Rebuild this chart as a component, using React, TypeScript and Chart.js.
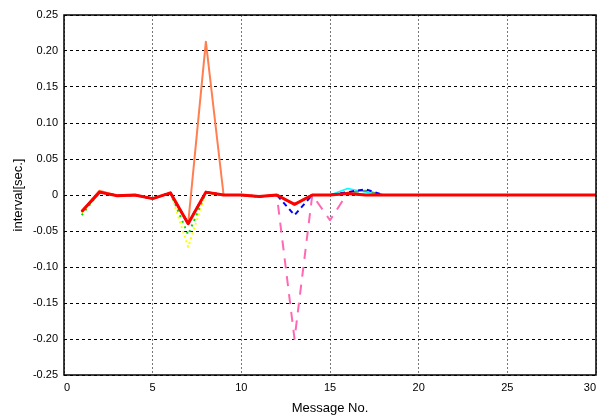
import React, { useEffect, useRef } from "react";
import { Chart, registerables } from "chart.js";

Chart.register(...registerables);

const messageNo = Array.from({ length: 30 }, (_, i) => i + 1);
const xTicks = [0, 5, 10, 15, 20, 25, 30];

const redSeries = [-0.023, 0.004, -0.001, 0.0, -0.005, 0.003, -0.04, 0.004, 0.0, 0.0, -0.002, 0.0, -0.013, 0.0, 0.0, 0.002, 0.0, 0, 0, 0, 0, 0, 0, 0, 0, 0, 0, 0, 0, 0];
const coralSeries = [-0.023, 0.006, -0.001, 0.0, -0.005, 0.003, -0.04, 0.213, 0.0, 0.0, -0.002, 0.0, -0.013, 0.0, 0.0, 0.002, 0.0, 0, 0, 0, 0, 0, 0, 0, 0, 0, 0, 0, 0, 0];
const yellowSeries = [-0.025, 0.004, -0.001, 0.0, -0.005, 0.003, -0.072, 0.003, 0.0, 0.0, -0.002, 0.0, -0.013, 0.0, 0.0, 0.002, 0.0, 0, 0, 0, 0, 0, 0, 0, 0, 0, 0, 0, 0, 0];
const greenSeries = [-0.028, 0.004, -0.001, 0.0, -0.005, 0.003, -0.055, 0.003, 0.0, 0.0, -0.002, 0.0, -0.013, 0.0, 0.0, 0.002, 0.0, 0, 0, 0, 0, 0, 0, 0, 0, 0, 0, 0, 0, 0];
const pinkSeries = [-0.023, 0.004, -0.001, 0.0, -0.005, 0.003, -0.04, 0.004, 0.0, 0.0, -0.002, 0.0, -0.2, 0.0, -0.035, 0.003, 0.0, 0, 0, 0, 0, 0, 0, 0, 0, 0, 0, 0, 0, 0];
const blueSeries = [-0.023, 0.004, -0.001, 0.0, -0.005, 0.003, -0.04, 0.004, 0.0, 0.0, -0.002, 0.0, -0.028, 0.0, 0.0, 0.004, 0.008, 0, 0, 0, 0, 0, 0, 0, 0, 0, 0, 0, 0, 0];
const cyanSeries = [-0.023, 0.004, -0.001, 0.0, -0.005, 0.003, -0.04, 0.004, 0.0, 0.0, -0.002, 0.0, -0.013, 0.0, 0.0, 0.009, 0.004, 0, 0, 0, 0, 0, 0, 0, 0, 0, 0, 0, 0, 0];
const oliveSeries = [-0.023, 0.004, -0.001, 0.0, -0.005, 0.003, -0.04, 0.004, 0.0, 0.0, -0.002, 0.0, -0.013, 0.0, 0.0, 0.003, 0.006, 0, 0, 0, 0, 0, 0, 0, 0, 0, 0, 0, 0, 0];

const toPts = (arr: number[]) => arr.map((y, i) => ({ x: messageNo[i], y }));

const framePlugin = {
  id: "frame",
  afterDraw(chart: any) {
    const { ctx, chartArea: a } = chart;
    ctx.save();
    ctx.strokeStyle = "#000";
    ctx.lineWidth = 1.5;
    ctx.setLineDash([]);
    ctx.strokeRect(a.left, a.top, a.right - a.left, a.bottom - a.top);
    ctx.restore();
  },
};

export default function App() {
  const ref = useRef<HTMLCanvasElement>(null);
  useEffect(() => {
    document.body.style.margin = "0";
    const mk = (data: number[], color: string, width: number, dash: number[]) => ({
      data: toPts(data),
      borderColor: color,
      backgroundColor: color,
      borderWidth: width,
      borderDash: dash,
      borderJoinStyle: "round",
      pointRadius: 0,
      tension: 0,
      fill: false,
    });
    const chart = new Chart(ref.current!, {
      type: "line",
      data: {
        datasets: [
          mk(redSeries, "#ff0000", 3, []),
          mk(blueSeries, "#0000ff", 2, [5, 4]),
          mk(oliveSeries, "#5f9f5f", 2, [5, 4]),
          mk(cyanSeries, "#00ffff", 1.5, []),
          mk(greenSeries, "#00dd00", 2, [2, 4]),
          mk(yellowSeries, "#ffff00", 2, [2, 3]),
          mk(pinkSeries, "#ff69b4", 2, [10, 8]),
          mk(coralSeries, "#ff7f50", 2, []),
        ] as any,
      },
      options: {
        animation: false,
        responsive: false,
        layout: { padding: { top: 15, right: 5, left: 0, bottom: 0 } },
        plugins: { legend: { display: false }, tooltip: { enabled: false } },
        scales: {
          x: {
            type: "linear",
            min: 0,
            max: 30,
            afterBuildTicks: (s: any) => {
              s.ticks = xTicks.map((v) => ({ value: v }));
            },
            afterFit: (s: any) => {
              s.height = 41;
              s.paddingRight = 0;
              s.paddingLeft = 0;
            },
            ticks: {
              color: "#000",
              font: { family: "Liberation Sans", size: 11 },
              padding: 6,
              maxRotation: 0,
              autoSkip: false,
              align: "inner",
            },
            grid: {
              color: "#777",
              lineWidth: 1,
              drawTicks: false,
            },
            border: { display: false, dash: [2, 2] },
            title: {
              display: true,
              text: "Message No.",
              color: "#000",
              font: { family: "Liberation Sans", size: 13 },
              padding: { top: 5, bottom: 0 },
            },
          },
          y: {
            type: "linear",
            min: -0.25,
            max: 0.25,
            afterBuildTicks: (s: any) => {
              const t = [];
              for (let i = -5; i <= 5; i++) t.push({ value: i * 0.05 });
              s.ticks = t;
            },
            afterFit: (s: any) => {
              s.width = 64;
              s.paddingTop = 0;
              s.paddingBottom = 0;
            },
            ticks: {
              color: "#000",
              font: { family: "Liberation Sans", size: 11 },
              padding: 6,
              autoSkip: false,
              callback: (v: any) => (Math.abs(v) < 1e-9 ? "0" : Number(v).toFixed(2)),
            },
            grid: {
              color: "#000",
              lineWidth: 1,
              drawTicks: false,
            },
            border: { display: false, dash: [3, 3] },
            title: {
              display: true,
              text: "interval[sec.]",
              color: "#000",
              font: { family: "Liberation Sans", size: 13 },
              padding: { top: 11, bottom: 0 },
            },
          },
        },
      },
      plugins: [framePlugin],
    });
    return () => chart.destroy();
  }, []);
  return <canvas ref={ref} width={601} height={416} style={{ display: "block" }} />;
}
